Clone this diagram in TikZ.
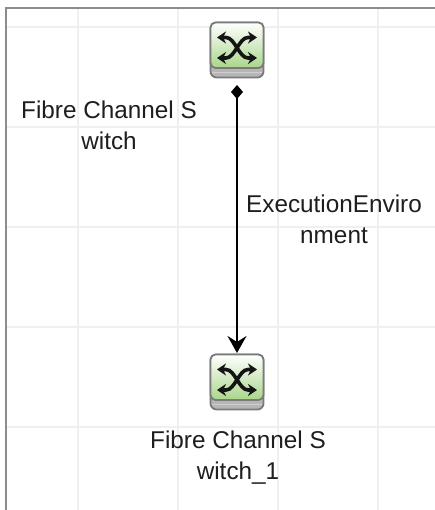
\documentclass[tikz,border=0pt]{standalone}
\usepackage{fontspec}
\setmainfont{Liberation Sans}
\usetikzlibrary{arrows.meta}
\definecolor{gridc}{HTML}{F0F0F2}
\definecolor{framec}{HTML}{8C8C8C}
\definecolor{edgec}{HTML}{7A7A7A}
\definecolor{greenc}{HTML}{A9D68A}
\definecolor{glyphc}{HTML}{141414}
\definecolor{txtc}{HTML}{1E1E1E}
\tikzset{
  gridline/.style={draw=gridc,line width=2.4pt},
  framerule/.style={draw=framec,line width=2pt},
  switchbox/.style={minimum width=55pt,minimum height=56pt,inner sep=0pt,outer sep=1pt},
  lbl/.style={align=center,font=\fontsize{24.3}{31}\selectfont,text=txtc,inner sep=0pt},
  swarrow/.style={draw=glyphc,line width=3.6pt,{Stealth[length=9pt,width=12pt]}-{Stealth[length=9pt,width=12pt]}},
  conn/.style={draw=black,line width=2pt,{Diamond[length=14pt,width=12pt]}-{Stealth[length=17pt,width=19pt,inset=6pt]}}
}
\newcommand{\swicon}[3]{%
  \node[switchbox] (#1) at (#2,#3) {};
  \begin{scope}[shift={(#2,#3)}]
    \fill[edgec!55!white,draw=edgec,line width=1.8pt,rounded corners=6pt] (-26.5,-27.5) rectangle (26.5,27.5);
    \draw[edgec!35!white,line width=1.4pt] (-25,-22.5) -- (25,-22.5);
    \shade[top color=white,bottom color=greenc,draw=edgec,line width=1.8pt,rounded corners=5pt] (-26.5,27.5) rectangle (26.5,-18);
    \draw[swarrow] (-20,12.5) -- (-11,12.5) .. controls (-2,12.5) and (2,-8) .. (11,-8) -- (20,-8);
    \draw[swarrow] (-20,-8) -- (-11,-8) .. controls (-2,-8) and (2,12.5) .. (11,12.5) -- (20,12.5);
  \end{scope}}
\begin{document}
\begin{tikzpicture}[x=1pt,y=1pt]
\useasboundingbox (0,0) rectangle (435,510);
\fill[white] (0,0) rectangle (435,510);
\foreach \gx in {78,178,278,378} \draw[gridline] (\gx,0) -- (\gx,502);
\foreach \gy in {83,183,283,383,483} \draw[gridline] (6,\gy) -- (435,\gy);
\draw[framerule] (6,0) -- (6,502) -- (435,502);
\swicon{swa}{237}{460}
\swicon{swb}{237}{128}
\coordinate (tipa) at (237,425);
\draw[conn] (tipa) -- (swb.north);
\node[lbl] (la) at (109,385) {Fibre Channel S\\witch};
\node[lbl] (lb) at (334,291) {ExecutionEnviro\\nment};
\node[lbl] (lc) at (238,52) {Fibre Channel S\\witch\_1};
\end{tikzpicture}
\end{document}
